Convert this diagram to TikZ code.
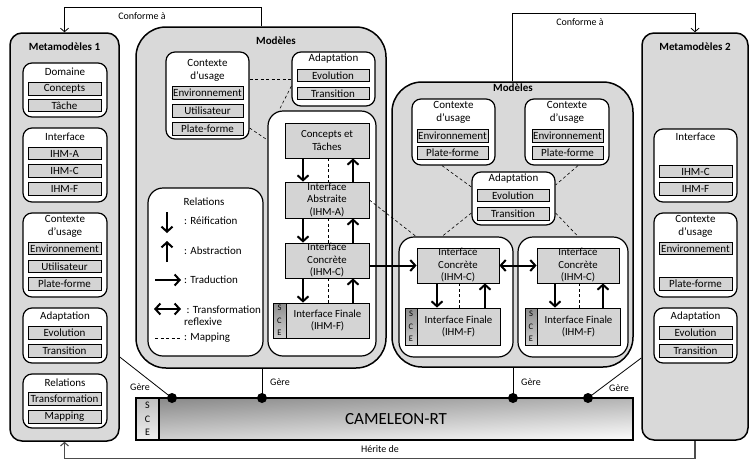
\documentclass[tikz,border=0pt]{standalone}
\usepackage{fontspec}
\setmainfont{Carlito}
\usetikzlibrary{arrows.meta,calc}

\begin{document}
\begin{tikzpicture}[x=1pt,y=-1pt,
  every node/.style={font=\fontsize{11}{12}\selectfont, inner sep=0pt},
  panelbox/.style={draw, line width=1.5pt, fill=black!15, rounded corners=12pt},
  modelbox/.style={draw, line width=1.5pt, fill=black!15, rounded corners=30pt},
  groupbox/.style={draw, line width=1.2pt, fill=white, rounded corners=9pt},
  lanebox/.style={draw, line width=1.2pt, fill=white, rounded corners=15pt},
  itembox/.style={draw, line width=0.8pt, fill=black!17, minimum height=12.5pt},
  stagebox/.style={draw, line width=0.8pt, fill=black!17, align=center, font=\fontsize{10.8}{12.5}\selectfont},
  scestrip/.style={draw, line width=1pt, align=center, top color=black!45, bottom color=black!18, font=\fontsize{8.5}{12.3}\selectfont},
  twoline/.style={align=center, font=\fontsize{11}{13}\selectfont},
  barb/.tip={Straight Barb[length=5pt,width=11pt]},
  relarrow/.style={line width=2pt, -barb},
  bothway/.style={line width=2pt, barb-barb},
  mapline/.style={line width=0.6pt, dash pattern=on 3pt off 2.5pt},
  linkline/.style={line width=0.8pt},
  openarrow/.style={-{Straight Barb[length=3.5pt,width=8pt]}},
  smalllabel/.style={font=\fontsize{10}{11}\selectfont},
]
\fill[white] (0,0) rectangle (753,461);
\useasboundingbox (0,0) rectangle (753,461);

% ---------- Metamodels 1 ----------
\node[panelbox, minimum width=109pt, minimum height=408pt] (meta1) at (64.5,237) {};
\node (meta1t) at (64.5,47) {\textbf{Metamodèles 1}};

\node[groupbox, minimum width=84pt, minimum height=54pt] (dom1) at (65,90) {};
\node (dom1t) at (65,71.5) {Domaine};
\node[itembox, minimum width=73pt] (dom1a) at (64.5,89) {Concepts};
\node[itembox, minimum width=73pt] (dom1b) at (64.5,105.5) {Tâche};

\node[groupbox, minimum width=84pt, minimum height=74pt] (int1) at (65,165) {};
\node (int1t) at (65,136.5) {Interface};
\node[itembox, minimum width=73pt] (int1a) at (64.5,153.5) {IHM-A};
\node[itembox, minimum width=73pt] (int1b) at (64.5,171) {IHM-C};
\node[itembox, minimum width=73pt] (int1c) at (64.5,189) {IHM-F};

\node[groupbox, minimum width=84pt, minimum height=84pt] (ctx1m) at (65,255) {};
\node[twoline] (ctx1mt) at (65,226.5) {Contexte\\d’usage};
\node[itembox, minimum width=73pt] (ctx1ma) at (64.5,248.5) {Environnement};
\node[itembox, minimum width=73pt] (ctx1mb) at (64.5,266.5) {Utilisateur};
\node[itembox, minimum width=73pt] (ctx1mc) at (64.5,284) {Plate-forme};

\node[groupbox, minimum width=84pt, minimum height=55pt] (adp1m) at (65,335.5) {};
\node (adp1mt) at (65,316.5) {Adaptation};
\node[itembox, minimum width=73pt] (adp1ma) at (64.5,333) {Evolution};
\node[itembox, minimum width=73pt] (adp1mb) at (64.5,351) {Transition};

\node[groupbox, minimum width=84pt, minimum height=54pt] (rel1m) at (65,401) {};
\node (rel1mt) at (65,382.5) {Relations};
\node[itembox, minimum width=73pt] (rel1ma) at (64.5,399) {Transformation};
\node[itembox, minimum width=73pt] (rel1mb) at (64.5,417) {Mapping};

% ---------- Metamodels 2 ----------
\node[panelbox, minimum width=106pt, minimum height=407pt] (meta2) at (695,236.5) {};
\node (meta2t) at (695,47) {\textbf{Metamodèles 2}};

\node[groupbox, minimum width=83pt, minimum height=73pt] (int2) at (695.5,165.5) {};
\node (int2t) at (695.5,137) {Interface};
\node[itembox, minimum width=73pt] (int2a) at (695.5,171.5) {IHM-C};
\node[itembox, minimum width=73pt] (int2b) at (695.5,189) {IHM-F};

\node[groupbox, minimum width=83pt, minimum height=84pt] (ctx2m) at (695.5,255) {};
\node[twoline] (ctx2mt) at (695.5,226.5) {Contexte\\d’usage};
\node[itembox, minimum width=73pt] (ctx2ma) at (695.5,248.5) {Environnement};
\node[itembox, minimum width=73pt] (ctx2mb) at (695.5,284) {Plate-forme};

\node[groupbox, minimum width=83pt, minimum height=55pt] (adp2m) at (695.5,335.5) {};
\node (adp2mt) at (695.5,316.5) {Adaptation};
\node[itembox, minimum width=73pt] (adp2ma) at (695.5,333) {Evolution};
\node[itembox, minimum width=73pt] (adp2mb) at (695.5,351) {Transition};

% ---------- Models 1 ----------
\node[modelbox, minimum width=250pt, minimum height=341pt] (m1) at (261,197.5) {};
\node (m1t) at (276,41) {\textbf{Modèles}};

\node[groupbox, minimum width=83pt, minimum height=87pt] (cx1) at (207.5,95.5) {};
\node[twoline] (cx1t) at (207.5,70.5) {Contexte\\d’usage};
\node[itembox, minimum width=71pt] (cx1a) at (207.5,93) {Environnement};
\node[itembox, minimum width=71pt] (cx1b) at (207.5,111) {Utilisateur};
\node[itembox, minimum width=71pt] (cx1c) at (207.5,129) {Plate-forme};

\node[groupbox, minimum width=83pt, minimum height=54pt] (ad1) at (333.5,79) {};
\node (ad1t) at (333.5,59) {Adaptation};
\node[itembox, minimum width=72pt] (ad1a) at (333,75.5) {Evolution};
\node[itembox, minimum width=72pt] (ad1b) at (333,93.5) {Transition};

% legend
\node[lanebox, minimum width=115pt, minimum height=168pt] (leg) at (205.5,272) {};
\node (legt) at (204,202) {Relations};
\coordinate (lg1a) at (167,212); \coordinate (lg1b) at (167,233);
\coordinate (lg2a) at (167,262); \coordinate (lg2b) at (167,241);
\coordinate (lg3a) at (155,280); \coordinate (lg3b) at (181,280);
\coordinate (lg4a) at (154,309); \coordinate (lg4b) at (181,309);
\coordinate (lg5a) at (155,338); \coordinate (lg5b) at (180,338);
\draw[relarrow] (lg1a) -- (lg1b);
\draw[relarrow] (lg2a) -- (lg2b);
\draw[relarrow] (lg3a) -- (lg3b);
\draw[bothway] (lg4a) -- (lg4b);
\draw[mapline] (lg5a) -- (lg5b);
\node[anchor=west] (lgl1) at (184,221) {: Réification};
\node[anchor=west] (lgl2) at (184,251) {: Abstraction};
\node[anchor=west] (lgl3) at (184,280) {: Traduction};
\node[anchor=west, align=left] (lgl4) at (184,315.5) {\ : Transformation\\reflexive};
\node[anchor=west] (lgl5) at (184,338) {: Mapping};

% pipeline 1
\node[lanebox, minimum width=108pt, minimum height=245pt] (pl1) at (322,233.5) {};
\node[stagebox, minimum width=84pt, minimum height=35pt] (ct) at (327,140.5) {Concepts et\\Tâches};
\node[stagebox, minimum width=84pt, minimum height=36pt] (ia) at (327,200) {Interface\\Abstraite\\(IHM-A)};
\node[stagebox, minimum width=84pt, minimum height=35pt] (ic) at (327,260.5) {Interface\\Concrète\\(IHM-C)};
\node[stagebox, minimum width=83pt, minimum height=35pt] (if) at (327.5,320.5) {Interface Finale\\(IHM-F)};
\node[scestrip, minimum width=13pt, minimum height=35pt] (ifs) at (279.5,320.5) {S\\C\\E};

\draw[relarrow] ([xshift=-24pt]ct.south) -- ([xshift=-24pt]ia.north);
\draw[relarrow] ([xshift=26pt]ia.north) -- ([xshift=26pt]ct.south);
\draw[mapline] ([xshift=1pt]ct.south) -- ([xshift=1pt]ia.north);
\draw[relarrow] ([xshift=-24pt]ia.south) -- ([xshift=-24pt]ic.north);
\draw[relarrow] ([xshift=26pt]ic.north) -- ([xshift=26pt]ia.south);
\draw[mapline] ([xshift=1pt]ia.south) -- ([xshift=1pt]ic.north);
\draw[relarrow] ([xshift=-24pt]ic.south) -- ([xshift=-24.5pt]if.north);
\draw[relarrow] ([xshift=25.5pt]if.north) -- ([xshift=26pt]ic.south);
\draw[mapline] ([xshift=1pt]ic.south) -- ([xshift=0.5pt]if.north);

% mappings inside models 1
\draw[mapline] (cx1.east |- ad1.west) -- (ad1.west);
\draw[mapline] ([yshift=-7pt]ad1.west) -- ([xshift=-43pt]pl1.north);
\draw[mapline] ([yshift=-32.5pt]cx1.east) -- ([yshift=93.5pt]pl1.west);

% ---------- Models 2 ----------
\node[modelbox, minimum width=241pt, minimum height=285pt] (m2) at (512.5,224.5) {};
\node (m2t) at (513,88) {\textbf{Modèles}};

\node[groupbox, minimum width=83pt, minimum height=66pt] (cxa) at (453.5,132) {};
\node[twoline] (cxat) at (453.5,112) {Contexte\\d’usage};
\node[itembox, minimum width=71pt] (cxaa) at (452.5,136) {Environnement};
\node[itembox, minimum width=71pt] (cxab) at (452.5,153) {Plate-forme};

\node[groupbox, minimum width=84pt, minimum height=66pt] (cxb) at (567,132) {};
\node[twoline] (cxbt) at (567,112) {Contexte\\d’usage};
\node[itembox, minimum width=71pt] (cxba) at (567.5,136) {Environnement};
\node[itembox, minimum width=71pt] (cxbb) at (567.5,153) {Plate-forme};

\node[groupbox, minimum width=83pt, minimum height=53pt] (ad2) at (513.5,198.5) {};
\node (ad2t) at (513.5,178.5) {Adaptation};
\node[itembox, minimum width=72pt] (ad2a) at (513,195.5) {Evolution};
\node[itembox, minimum width=72pt] (ad2b) at (513,214) {Transition};

\node[lanebox, minimum width=114pt, minimum height=120pt] (pl2a) at (456,297) {};
\node[lanebox, minimum width=110pt, minimum height=120pt] (pl2b) at (573,297) {};

\node[stagebox, minimum width=82pt, minimum height=35pt] (ica) at (458,265.5) {Interface\\Concrète\\(IHM-C)};
\node[stagebox, minimum width=83pt, minimum height=37pt] (ifa) at (458.5,326.5) {Interface Finale\\(IHM-F)};
\node[scestrip, minimum width=12pt, minimum height=37pt] (ifas) at (411,326.5) {S\\C\\E};

\node[stagebox, minimum width=82pt, minimum height=35pt] (icb) at (578,265.5) {Interface\\Concrète\\(IHM-C)};
\node[stagebox, minimum width=83pt, minimum height=37pt] (ifb) at (578.5,326.5) {Interface Finale\\(IHM-F)};
\node[scestrip, minimum width=12pt, minimum height=37pt] (ifbs) at (531,326.5) {S\\C\\E};

\draw[relarrow] ([xshift=-21pt]ica.south) -- ([xshift=-21.5pt]ifa.north);
\draw[relarrow] ([xshift=26.5pt]ifa.north) -- ([xshift=27pt]ica.south);
\draw[mapline] ([xshift=1pt]ica.south) -- ([xshift=0.5pt]ifa.north);
\draw[relarrow] ([xshift=-23pt]icb.south) -- ([xshift=-23.5pt]ifb.north);
\draw[relarrow] ([xshift=24.5pt]ifb.north) -- ([xshift=25pt]icb.south);
\draw[mapline] ([xshift=1pt]icb.south) -- ([xshift=0.5pt]ifb.north);

% mappings inside models 2
\draw[mapline] ([xshift=-11.5pt]cxa.south) -- ([yshift=11.5pt]ad2.west);
\draw[mapline] ([xshift=11pt]cxb.south) -- ([yshift=13.5pt]ad2.east);
\draw[mapline] ([yshift=-14.5pt]ad2.west) -- ([xshift=-14pt]pl2a.north);
\draw[mapline] ([yshift=-14.5pt]ad2.east) -- ([xshift=5pt]pl2b.north);

% links between the two models
\draw[mapline] (ia.east) -- ([xshift=-40pt]pl2a.north);
\draw[relarrow] (ic.east |- ica.west) -- (ica.west);
\draw[bothway] (ica.east) -- (icb.west);

% ---------- CAMELEON-RT runtime ----------
% the shading angle is real, so a few degrees give a soft left-to-right fade
\node[draw, line width=1.2pt, minimum width=474pt, minimum height=42pt,
      top color=black!45, bottom color=black!2, shading angle=3,
      font=\fontsize{17}{20}\selectfont] (rt) at (396,419) {CAMELEON-RT};
\node[draw, line width=1.2pt, minimum width=23pt, minimum height=42pt, align=center,
      top color=black!25, bottom color=black!6, font=\fontsize{10}{13.5}\selectfont] (rts) at (147.5,419) {S\\C\\E};

\coordinate (h1) at (172,398);
\coordinate (h2) at (262,398);
\coordinate (h3) at (513,398);
\coordinate (h4) at (588,398);
\draw[linkline] (h1) -- ([yshift=-120pt]meta1.east);
\draw[linkline] (h2) -- (h2 |- m1.south);
\draw[linkline] (h3) -- (h3 |- m2.south);
\draw[linkline] (h4) -- ([yshift=-121.5pt]meta2.west);
\node[circle, fill=black, minimum size=10pt] (h1dot) at (h1) {};
\node[circle, fill=black, minimum size=10pt] (h2dot) at (h2) {};
\node[circle, fill=black, minimum size=10pt] (h3dot) at (h3) {};
\node[circle, fill=black, minimum size=10pt] (h4dot) at (h4) {};
\node[smalllabel] (g1) at (140,387) {Gère};
\node[smalllabel, anchor=west] (g2) at (270,382) {Gère};
\node[smalllabel, anchor=west] (g3) at (521,382) {Gère};
\node[smalllabel] (g4) at (619,388) {Gère};

% ---------- conformance and inheritance ----------
\draw[linkline, openarrow] (m1.north) -- ++(0,-19) -| (meta1.north);
\node[smalllabel] (conf1) at (142,16) {Conforme à};
\draw[linkline, openarrow] (m2.north) -- ++(0,-68) -| (meta2.north);
\node[smalllabel] (conf2) at (580,22) {Conforme à};
\draw[line width=1.1pt, black!70, openarrow] (meta2.south) -- ++(0,18) -| (meta1.south);
\node[smalllabel] (inh) at (380,449) {Hérite de};
\end{tikzpicture}
\end{document}
